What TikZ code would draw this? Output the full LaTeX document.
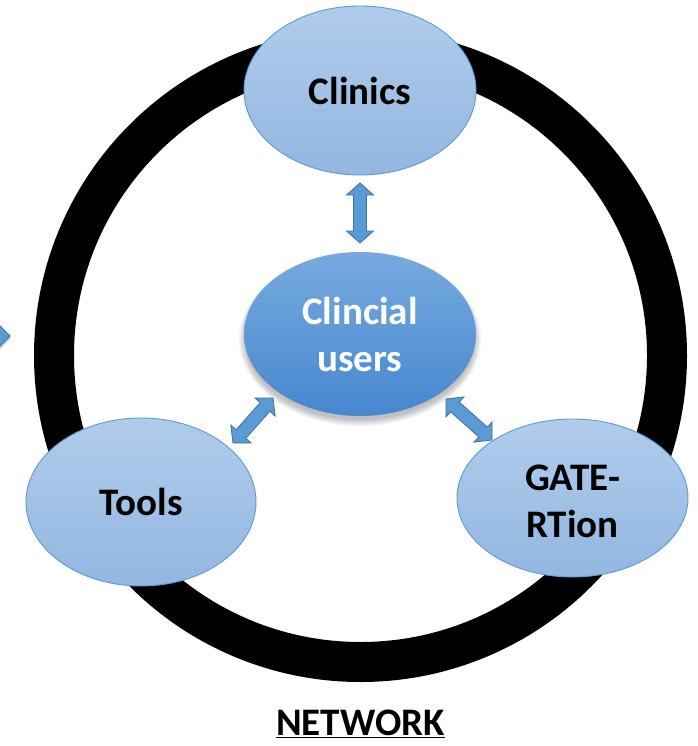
\documentclass[tikz,border=0pt]{standalone}
\usepackage{fontspec}
\setmainfont{Carlito}
\usetikzlibrary{shapes.geometric,calc}
\definecolor{lightTop}{HTML}{B0CCEB}
\definecolor{lightBot}{HTML}{93B7E1}
\definecolor{edgeBlue}{HTML}{5B9BD5}
\definecolor{darkTop}{HTML}{76AADF}
\definecolor{darkBot}{HTML}{4787CE}
\definecolor{arrowFill}{HTML}{5B9BD5}
\definecolor{arrowEdge}{HTML}{41719C}
\newcommand{\dblarr}[2]{%
  \path[fill=black, fill opacity=0.18, shift={(1.5,2)}]
    (#1) -- ($(#1)!12pt!(#2)!13.5pt!90:(#2)$) -- ($(#1)!12pt!(#2)!6.5pt!90:(#2)$)
    -- ($(#2)!12pt!(#1)!6.5pt!-90:(#1)$) -- ($(#2)!12pt!(#1)!13.5pt!-90:(#1)$)
    -- (#2) -- ($(#2)!12pt!(#1)!13.5pt!90:(#1)$) -- ($(#2)!12pt!(#1)!6.5pt!90:(#1)$)
    -- ($(#1)!12pt!(#2)!6.5pt!-90:(#2)$) -- ($(#1)!12pt!(#2)!13.5pt!-90:(#2)$) -- cycle;
  \path[arrowbody]
    (#1) -- ($(#1)!12pt!(#2)!13.5pt!90:(#2)$) -- ($(#1)!12pt!(#2)!6.5pt!90:(#2)$)
    -- ($(#2)!12pt!(#1)!6.5pt!-90:(#1)$) -- ($(#2)!12pt!(#1)!13.5pt!-90:(#1)$)
    -- (#2) -- ($(#2)!12pt!(#1)!13.5pt!90:(#1)$) -- ($(#2)!12pt!(#1)!6.5pt!90:(#1)$)
    -- ($(#1)!12pt!(#2)!6.5pt!-90:(#2)$) -- ($(#1)!12pt!(#2)!13.5pt!-90:(#2)$) -- cycle;}
\begin{document}
\begin{tikzpicture}[x=1pt,y=-1pt,
  bubble/.style={ellipse, draw=edgeBlue, line width=0.9pt, top color=lightTop,
    bottom color=lightBot, inner sep=0pt, align=center, text=black,
    font=\fontsize{39}{47}\selectfont\bfseries},
  hub/.style={bubble, draw=none, top color=darkTop, bottom color=darkBot, text=white},
  arrowbody/.style={fill=arrowFill, draw=arrowEdge, line width=0.8pt, line join=miter},
  ring/.style={draw=black, line width=40pt}]
\useasboundingbox (0,0) rectangle (697,746);
\fill[white] (0,0) rectangle (697,746);
% partial arrow at the left edge
\fill[black, fill opacity=0.18] (-18,309) -- (11,338) -- (-18,367) -- cycle;
\path[arrowbody] (-20,306) -- (10,336) -- (-20,366) -- cycle;
% ring
\draw[ring] (360.5,355.5) circle[radius=306.5pt];
% shadow of hub
\foreach \k in {0,...,5}{
  \fill[black, opacity=0.045] (360,339) ellipse[x radius={115pt+\k*1.2pt}, y radius={81pt+\k*1.2pt}];
}
\node[bubble, minimum width=232pt, minimum height=169pt] (clinics) at (360,90.5) {Clinics};
\node[hub, minimum width=232pt, minimum height=164pt] (users) at (360,334) {Clincial\\users};
\node[bubble, minimum width=230pt, minimum height=168pt] (tools) at (141,502) {Tools};
\node[bubble, minimum width=231pt, minimum height=158pt,
  label={[font=\fontsize{39}{47}\selectfont\bfseries, align=center, yshift=-3pt]center:GATE-\\RTion}] (gate) at (572.5,498) {};
% connectors
\coordinate (c1) at (360,183);
\coordinate (c2) at (360,243);
\coordinate (t1) at (233,443);
\coordinate (t2) at (273,398);
\coordinate (g1) at (446,399);
\coordinate (g2) at (492,440);
\dblarr{c1}{c2}
\dblarr{t1}{t2}
\dblarr{g1}{g2}
\node[font=\fontsize{39}{47}\selectfont\bfseries, inner sep=0pt] (net) at (360.5,724) {\underline{NETWORK}};
\end{tikzpicture}
\end{document}
